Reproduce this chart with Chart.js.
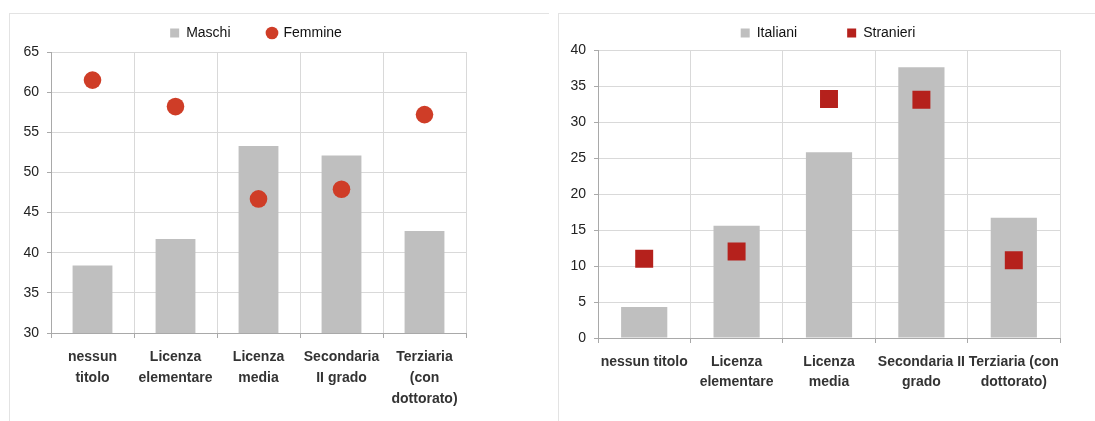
<!DOCTYPE html>
<html>
<head>
<meta charset="utf-8">
<script src="https://cdn.jsdelivr.net/npm/chart.js@4"></script>
<style>
  body { margin: 0; background: #fff; width: 1095px; height: 421px; overflow: hidden; position: relative; }
  .line { position: absolute; background: #e3e3e3; }
  canvas { position: absolute; }
</style>
</head>
<body>
<div class="line" style="left:9px;top:13px;width:540px;height:1px"></div>
<div class="line" style="left:9px;top:13px;width:1px;height:408px"></div>
<div class="line" style="left:558px;top:13px;width:537px;height:1px"></div>
<div class="line" style="left:558px;top:13px;width:1px;height:408px"></div>
<canvas id="genderChart" width="550" height="424" style="left:0;top:-11px"></canvas>
<canvas id="originChart" width="537" height="422" style="left:558px;top:-24px"></canvas>
<script>
// titoli di studio (asse x)
const labelsGender = [['nessun', 'titolo'], ['Licenza', 'elementare'], ['Licenza', 'media'], ['Secondaria', 'II grado'], ['Terziaria', '(con', 'dottorato)']];
const labelsOrigin = ['nessun titolo', ['Licenza', 'elementare'], ['Licenza', 'media'], ['Secondaria II', 'grado'], ['Terziaria (con', 'dottorato)']];

const maschi = [38.4, 41.7, 53.3, 52.1, 42.7];
const femmine = [61.5, 58.2, 46.7, 47.9, 57.2];

const italiani = [4.3, 15.6, 25.8, 37.6, 16.7];
const stranieri = [11.0, 12.0, 33.2, 33.1, 10.8];

const grey = '#bfbfbf';
const gridColor = '#d9d9d9';
const axisColor = '#a9a9a9';
const font = 'Liberation Sans, Arial, sans-serif';

// legenda: voci piu distanziate, altezza fissa e spostata in orizzontale
function legendTweak(h, dx) {
    return {
        id: 'legendTweak',
        beforeInit(chart) {
            const legend = chart.legend;
            const fit = legend.fit;
            legend.fit = function () {
                fit.bind(legend)();
                this.height = h;
            };
            const draw = legend.draw;
            legend.draw = function () {
                const c = this.ctx;
                c.save();
                c.translate(dx, 0);
                draw.apply(this, arguments);
                c.restore();
            };
        }
    };
}

function makeChart(id, opts) {
    const ctx = document.getElementById(id).getContext('2d');
    return new Chart(ctx, {
        type: 'bar',
        data: {
            labels: opts.labels,
            datasets: [
                {
                    label: opts.barLabel,
                    data: opts.barData,
                    backgroundColor: grey,
                    borderWidth: 0,
                    barPercentage: opts.barPct,
                    categoryPercentage: 1,
                    order: 2,
                },
                {
                    type: 'line',
                    label: opts.pointLabel,
                    data: opts.pointData,
                    showLine: false,
                    pointStyle: opts.pointStyle,
                    pointRadius: opts.pointRadius,
                    pointBackgroundColor: opts.pointColor,
                    pointBorderWidth: 0,
                    backgroundColor: opts.pointColor,
                    borderColor: opts.pointColor,
                    order: 1,
                }
            ]
        },
        options: {
            responsive: false,
            animation: false,
            devicePixelRatio: 1,
            layout: { padding: opts.padding },
            plugins: {
                tooltip: { enabled: false },
                legend: {
                    position: 'top',
                    labels: {
                        usePointStyle: true,
                        boxWidth: 9,
                        boxHeight: 9,
                        padding: opts.legendPad,
                        color: '#111',
                        font: { family: font, size: 14 },
                        generateLabels(chart) {
                            const items = Chart.defaults.plugins.legend.labels.generateLabels(chart);
                            items.sort((a, b) => a.datasetIndex - b.datasetIndex);
                            items.forEach(it => {
                                it.lineWidth = 0;
                                it.pointStyle = it.datasetIndex === 0 ? 'rect' : opts.pointStyle;
                            });
                            return items;
                        }
                    }
                }
            },
            scales: {
                x: {
                    offset: true,
                    grid: { offset: true, color: gridColor, tickColor: axisColor, tickLength: 5 },
                    border: { color: axisColor },
                    ticks: {
                        padding: 9,
                        color: '#333',
                        maxRotation: 0,
                        autoSkip: false,
                        font: { family: font, size: 14, weight: 'bold', lineHeight: opts.labelLH }
                    },
                    afterFit(scale) { scale.height = opts.xHeight; }
                },
                y: {
                    min: opts.min,
                    max: opts.max,
                    grid: { color: gridColor, tickColor: axisColor, tickLength: 4 },
                    border: { color: axisColor },
                    ticks: {
                        stepSize: 5,
                        padding: 8,
                        color: '#222',
                        font: { family: font, size: 14 }
                    },
                    afterFit(scale) { scale.width = opts.yWidth; }
                }
            }
        },
        plugins: [legendTweak(opts.legendH, opts.legendDx)]
    });
}

makeChart('genderChart', {
    labels: labelsGender,
    barLabel: 'Maschi', barData: maschi, barPct: 0.48,
    pointLabel: 'Femmine', pointData: femmine,
    pointStyle: 'circle', pointRadius: 8.8, pointColor: '#cf3d27',
    min: 30, max: 65,
    padding: { left: 0, right: 84, top: 0, bottom: 0 },
    legendPad: 37, legendH: 63, legendDx: 23,
    xHeight: 80, yWidth: 51, labelLH: 1.5
});

makeChart('originChart', {
    labels: labelsOrigin,
    barLabel: 'Italiani', barData: italiani, barPct: 0.5,
    pointLabel: 'Stranieri', pointData: stranieri,
    pointStyle: 'rect', pointRadius: 12.7, pointColor: '#b5211c',
    min: 0, max: 40,
    padding: { left: 0, right: 35, top: 0, bottom: 0 },
    legendPad: 50, legendH: 74, legendDx: 19,
    xHeight: 60, yWidth: 40, labelLH: 1.43
});
</script>
</body>
</html>
